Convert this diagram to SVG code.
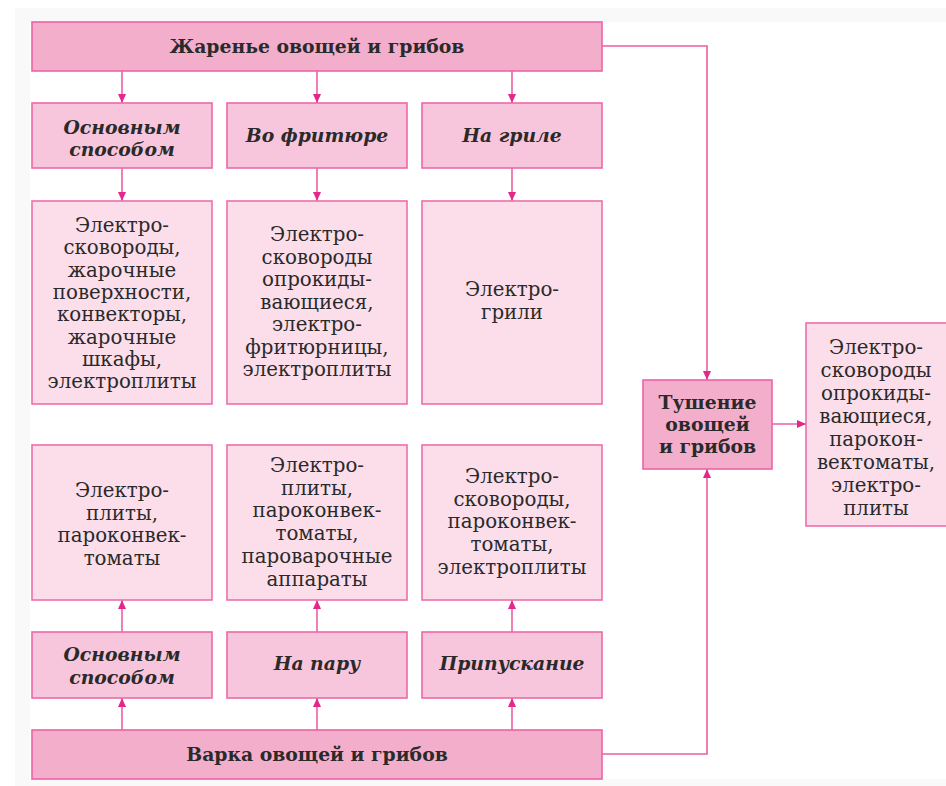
<svg xmlns="http://www.w3.org/2000/svg" width="946" height="786" viewBox="0 0 946 786">
<defs>
<marker id="ah" markerWidth="9" markerHeight="8" refX="9" refY="4" orient="auto" markerUnits="userSpaceOnUse">
<path d="M0,0 L9,4 L0,8 z" fill="#e3278b"/>
</marker>
<style>
.bar{fill:#f3aecb;stroke:#ee62a5;stroke-width:1.6}
.meth{fill:#f7c6dc;stroke:#ee68a8;stroke-width:1.6}
.eq{fill:#fcdeea;stroke:#ee6eab;stroke-width:1.6}
.conn{fill:none;stroke:#ec5fa3;stroke-width:1.6}
.t{font-family:"DejaVu Serif","Liberation Serif",serif;fill:#2a2a2a;text-anchor:middle}
.b{font-weight:bold;font-size:18.8px}
.i{font-weight:bold;font-style:italic;font-size:18.8px}
.r{font-size:19.8px}
</style>
</defs>
<rect x="0" y="0" width="946" height="786" fill="#ffffff"/>
<rect x="15" y="8" width="931" height="778" fill="#f9f9f9"/>
<rect x="30" y="22" width="916" height="757" fill="#ffffff"/>

<g id="connectors">
<line class="conn" x1="122" y1="71" x2="122" y2="103" marker-end="url(#ah)"/>
<line class="conn" x1="317" y1="71" x2="317" y2="103" marker-end="url(#ah)"/>
<line class="conn" x1="512" y1="71" x2="512" y2="103" marker-end="url(#ah)"/>
<line class="conn" x1="122" y1="168" x2="122" y2="201" marker-end="url(#ah)"/>
<line class="conn" x1="317" y1="168" x2="317" y2="201" marker-end="url(#ah)"/>
<line class="conn" x1="512" y1="168" x2="512" y2="201" marker-end="url(#ah)"/>
<line class="conn" x1="122" y1="730" x2="122" y2="698" marker-end="url(#ah)"/>
<line class="conn" x1="317" y1="730" x2="317" y2="698" marker-end="url(#ah)"/>
<line class="conn" x1="512" y1="730" x2="512" y2="698" marker-end="url(#ah)"/>
<line class="conn" x1="122" y1="632" x2="122" y2="600" marker-end="url(#ah)"/>
<line class="conn" x1="317" y1="632" x2="317" y2="600" marker-end="url(#ah)"/>
<line class="conn" x1="512" y1="632" x2="512" y2="600" marker-end="url(#ah)"/>
<polyline class="conn" points="602,46 707,46 707,380" marker-end="url(#ah)"/>
<polyline class="conn" points="602,754 707,754 707,469" marker-end="url(#ah)"/>
<line class="conn" x1="772" y1="424" x2="806" y2="424" marker-end="url(#ah)"/>
</g>

<g id="zharenie">
<rect class="bar" x="32" y="22" width="570" height="49"/>
<text class="t b" x="317" y="53">Жаренье овощей и грибов</text>
</g>
<g id="fry-main">
<rect class="meth" x="32" y="103" width="180" height="65"/>
<text class="t i" x="122" y="134">Основным</text>
<text class="t i" x="122" y="156">способом</text>
</g>
<g id="fry-deep">
<rect class="meth" x="227" y="103" width="180" height="65"/>
<text class="t i" x="317" y="142">Во фритюре</text>
</g>
<g id="fry-grill">
<rect class="meth" x="422" y="103" width="180" height="65"/>
<text class="t i" x="512" y="142">На гриле</text>
</g>
<g id="fry-main-eq">
<rect class="eq" x="32" y="201" width="180" height="203"/>
<text class="t r" x="122" y="232"><tspan x="122">Электро-</tspan><tspan x="122" dy="22.3">сковороды,</tspan><tspan x="122" dy="22.3">жарочные</tspan><tspan x="122" dy="22.3">поверхности,</tspan><tspan x="122" dy="22.3">конвекторы,</tspan><tspan x="122" dy="22.3">жарочные</tspan><tspan x="122" dy="22.3">шкафы,</tspan><tspan x="122" dy="22.3">электроплиты</tspan></text>
</g>
<g id="fry-deep-eq">
<rect class="eq" x="227" y="201" width="180" height="203"/>
<text class="t r" x="317" y="241"><tspan x="317">Электро-</tspan><tspan x="317" dy="22.5">сковороды</tspan><tspan x="317" dy="22.5">опрокиды-</tspan><tspan x="317" dy="22.5">вающиеся,</tspan><tspan x="317" dy="22.5">электро-</tspan><tspan x="317" dy="22.5">фритюрницы,</tspan><tspan x="317" dy="22.5">электроплиты</tspan></text>
</g>
<g id="fry-grill-eq">
<rect class="eq" x="422" y="201" width="180" height="203"/>
<text class="t r" x="512" y="296"><tspan x="512">Электро-</tspan><tspan x="512" dy="23">грили</tspan></text>
</g>

<g id="boil-main-eq">
<rect class="eq" x="32" y="445" width="180" height="155"/>
<text class="t r" x="122" y="497"><tspan x="122">Электро-</tspan><tspan x="122" dy="22.7">плиты,</tspan><tspan x="122" dy="22.7">пароконвек-</tspan><tspan x="122" dy="22.7">томаты</tspan></text>
</g>
<g id="boil-steam-eq">
<rect class="eq" x="227" y="445" width="180" height="155"/>
<text class="t r" x="317" y="472"><tspan x="317">Электро-</tspan><tspan x="317" dy="22.7">плиты,</tspan><tspan x="317" dy="22.7">пароконвек-</tspan><tspan x="317" dy="22.7">томаты,</tspan><tspan x="317" dy="22.7">пароварочные</tspan><tspan x="317" dy="22.7">аппараты</tspan></text>
</g>
<g id="boil-poach-eq">
<rect class="eq" x="422" y="445" width="180" height="155"/>
<text class="t r" x="512" y="483"><tspan x="512">Электро-</tspan><tspan x="512" dy="22.7">сковороды,</tspan><tspan x="512" dy="22.7">пароконвек-</tspan><tspan x="512" dy="22.7">томаты,</tspan><tspan x="512" dy="22.7">электроплиты</tspan></text>
</g>
<g id="boil-main">
<rect class="meth" x="32" y="632" width="180" height="66"/>
<text class="t i" x="122" y="661">Основным</text>
<text class="t i" x="122" y="684">способом</text>
</g>
<g id="boil-steam">
<rect class="meth" x="227" y="632" width="180" height="66"/>
<text class="t i" x="317" y="670">На пару</text>
</g>
<g id="boil-poach">
<rect class="meth" x="422" y="632" width="180" height="66"/>
<text class="t i" x="512" y="670">Припускание</text>
</g>
<g id="varka">
<rect class="bar" x="32" y="730" width="570" height="49"/>
<text class="t b" x="317" y="761">Варка овощей и грибов</text>
</g>

<g id="tushenie">
<rect class="bar" x="643" y="380" width="129" height="89"/>
<text class="t b" x="707.5" y="409"><tspan x="707.5">Тушение</tspan><tspan x="707.5" dy="22">овощей</tspan><tspan x="707.5" dy="22">и грибов</tspan></text>
</g>
<g id="tushenie-eq">
<rect class="eq" x="806" y="323" width="145" height="203"/>
<text class="t r" x="876" y="354"><tspan x="876">Электро-</tspan><tspan x="876" dy="23">сковороды</tspan><tspan x="876" dy="23">опрокиды-</tspan><tspan x="876" dy="23">вающиеся,</tspan><tspan x="876" dy="23">парокон-</tspan><tspan x="876" dy="23">вектоматы,</tspan><tspan x="876" dy="23">электро-</tspan><tspan x="876" dy="23">плиты</tspan></text>
</g>
</svg>
